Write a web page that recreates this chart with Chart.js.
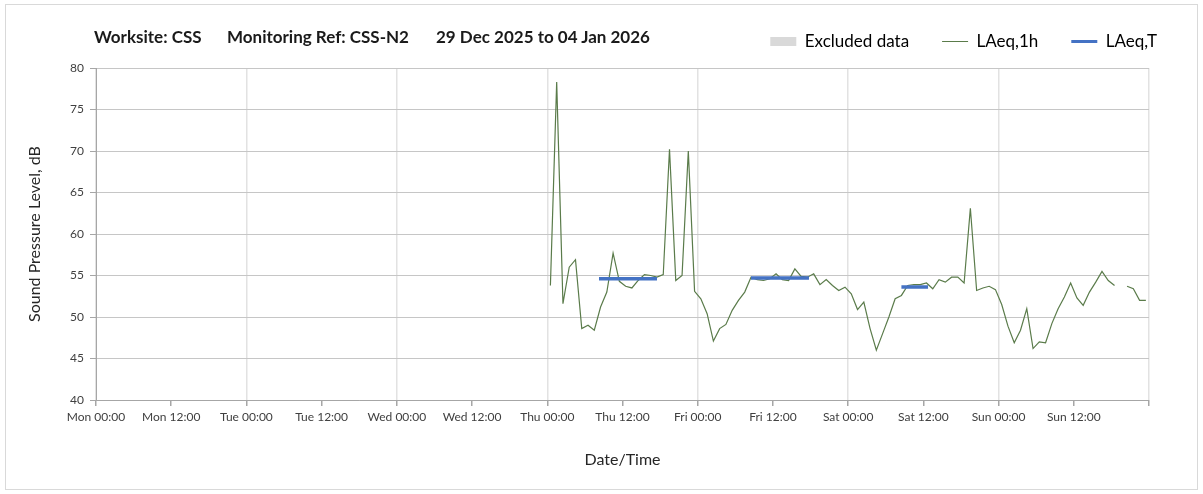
<!DOCTYPE html>
<html>
<head>
<meta charset="utf-8">
<script src="https://cdn.jsdelivr.net/npm/chart.js@4.4.1/dist/chart.umd.min.js"></script>
<style>
  body { margin: 0; background: #fff; }
  #wrap { position: relative; width: 1203px; height: 494px; overflow: hidden; }
  #frame { position: absolute; left: 5px; top: 4px; width: 1191px; height: 484px; border: 1px solid #d9d9d9; }
  #box { position: absolute; left: 0; top: 0; width: 1203px; height: 494px; }
  .t { position: absolute; top: 26px; line-height: 20px; font: bold 17px Lato, sans-serif; color: #1a1a1a; white-space: nowrap; }
</style>
</head>
<body>
<div id="wrap">
  <div id="frame"></div>
  <div id="box"><canvas id="chart"></canvas></div>
  <div class="t" style="left:94px">Worksite: CSS</div>
  <div class="t" style="left:227px">Monitoring Ref: CSS-N2</div>
  <div class="t" style="left:436px">29 Dec 2025 to 04 Jan 2026</div>
</div>
<script>
// hours since Mon 00:00, one tick every 12 h
const X_TICK_LABELS = ['Mon 00:00', 'Mon 12:00', 'Tue 00:00', 'Tue 12:00', 'Wed 00:00', 'Wed 12:00',
  'Thu 00:00', 'Thu 12:00', 'Fri 00:00', 'Fri 12:00', 'Sat 00:00', 'Sat 12:00', 'Sun 00:00', 'Sun 12:00'];

// hourly LAeq,1h readings, first one centred on Thu 00:30
const HOURLY_START = 72.5;
const LAEQ_1H = [
  53.8, 78.3, 51.6, 56.0, 56.9, 48.6, 49.0, 48.4, 51.2, 53.0, 57.7, 54.3,
  53.7, 53.5, 54.4, 55.1, 55.0, 54.8, 55.1, 70.2, 54.4, 55.0, 70.0, 53.1,
  52.2, 50.4, 47.1, 48.6, 49.1, 50.8, 52.0, 53.0, 54.8, 54.5, 54.4, 54.6,
  55.2, 54.5, 54.4, 55.8, 54.9, 54.8, 55.2, 53.9, 54.5, 53.8, 53.2, 53.6,
  52.8, 50.9, 51.8, 48.6, 46.0, 48.0, 50.0, 52.2, 52.6, 53.8, 53.9, 53.9,
  54.1, 53.4, 54.5, 54.2, 54.8, 54.8, 54.1, 63.1, 53.2, 53.5, 53.7, 53.3,
  51.5, 48.9, 46.9, 48.4, 51.0, 46.2, 47.0, 46.9, 49.2, 51.0, 52.4, 54.1,
  52.3, 51.4, 53.0, 54.2, 55.5, 54.4, 53.8, null, 53.7, 53.4, 52.0, 52.0
];

// LAeq,T periods
const LAEQ_T_START = [80.25, 104.5, 128.5];
const LAEQ_T_END = [89.5, 113.75, 132.75];
const LAEQ_T_VALUE = [54.6, 54.7, 53.6];

const hourlyPoints = LAEQ_1H.map((v, i) => ({ x: HOURLY_START + i, y: v }));
const periodPoints = [];
LAEQ_T_START.forEach((s, i) => {
  periodPoints.push({ x: s, y: LAEQ_T_VALUE[i] }, { x: LAEQ_T_END[i], y: LAEQ_T_VALUE[i] }, { x: LAEQ_T_END[i], y: null });
});

const GREEN = '#5a7b4a';
const BLUE = '#4472c4';
const FONT = 'Lato, sans-serif';

// legend sits on the title row, pushed right of the plot edge
const legendPlace = {
  id: 'legendPlace',
  beforeLayout(chart) {
    const lg = chart.legend;
    if (lg && !lg._patched) {
      const fit = lg.fit;
      lg.fit = function () { fit.call(this); this.height += 8; };
      lg._patched = true;
    }
  },
  afterLayout(chart) {
    chart.legend.left += 41;
    chart.legend.right += 41;
  }
};

function draw() {
  new Chart(document.getElementById('chart'), {
    type: 'line',
    data: {
      datasets: [
        { label: 'Excluded data', data: [], backgroundColor: '#d9d9d9', borderColor: '#d9d9d9',
          legendStyle: 'rect', legendWidth: 0, order: 2 },
        { label: 'LAeq,1h', data: hourlyPoints, borderColor: GREEN, borderWidth: 1.2, pointRadius: 0,
          spanGaps: false, legendStyle: 'line', legendWidth: 1, order: 1 },
        { label: 'LAeq,T', data: periodPoints, borderColor: BLUE, borderWidth: 3.5, pointRadius: 0,
          spanGaps: false, borderCapStyle: 'butt', legendStyle: 'line', legendWidth: 3, order: 0 },
      ],
    },
    plugins: [legendPlace],
    options: {
      responsive: true,
      maintainAspectRatio: false,
      animation: false,
      layout: { padding: { top: 0, left: 16, right: 54, bottom: 0 } },
      scales: {
        x: {
          type: 'linear', min: 0, max: 168,
          ticks: {
            stepSize: 12, autoSkip: false, maxRotation: 0, padding: 4,
            color: '#404040', font: { family: FONT, size: 12 },
            callback: v => X_TICK_LABELS[v / 12] ?? '',
          },
          grid: {
            color: c => (c.tick && c.tick.value % 24 === 0) ? '#e2e2e2' : 'transparent',
            lineWidth: 1.5, tickLength: 6, tickColor: '#a6a6a6',
          },
          border: { color: '#a6a6a6' },
          title: { display: true, text: 'Date/Time', color: '#262626', font: { family: FONT, size: 16 },
            padding: { top: 0, bottom: 25 } },
          afterFit(s) { s.height = 94; },
        },
        y: {
          min: 40, max: 80,
          ticks: { stepSize: 5, padding: 6, color: '#404040', font: { family: FONT, size: 12 } },
          grid: { color: '#c6c6c6', tickLength: 6, tickColor: '#a6a6a6' },
          border: { color: '#a6a6a6' },
          title: { display: true, text: 'Sound Pressure Level, dB', color: '#262626', font: { family: FONT, size: 16 },
            padding: { top: 9, bottom: 0 } },
          afterFit(s) { s.width = 80; },
        },
      },
      plugins: {
        tooltip: { enabled: false },
        legend: {
          position: 'top', align: 'end',
          labels: {
            usePointStyle: true, pointStyleWidth: 26, boxHeight: 9, padding: 33,
            color: '#262626', font: { family: FONT, size: 17 },
            generateLabels(chart) {
              return chart.data.datasets.map((ds, i) => ({
                text: ds.label,
                fillStyle: ds.backgroundColor || ds.borderColor,
                strokeStyle: ds.borderColor,
                lineWidth: ds.legendWidth,
                pointStyle: ds.legendStyle,
                datasetIndex: i,
                hidden: false,
              }));
            },
          },
        },
      },
    },
  });
}

document.fonts.load('16px Lato').then(draw, draw);
</script>
</body>
</html>
